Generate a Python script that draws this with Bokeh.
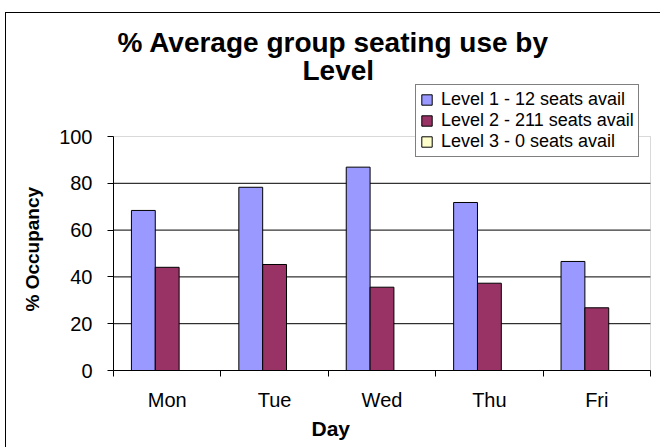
import numpy as np
from bokeh.plotting import figure
from bokeh.models import Range1d, FixedTicker, Legend, LegendItem, Title, BoxAnnotation
from bokeh.embed import file_html
from bokeh.resources import INLINE

# ---- data ----
days = ["Mon", "Tue", "Wed", "Thu", "Fri"]
level1 = [68.4, 78.3, 86.9, 71.8, 46.6]
level2 = [44.1, 45.3, 35.6, 37.3, 26.8]
level3 = [0, 0, 0, 0, 0]
series_names = ["Level 1 - 12 seats avail", "Level 2 - 211 seats avail", "Level 3 - 0 seats avail"]
colors = ["#9999FF", "#993366", "#FFFFCC"]
y_ticks = [0, 20, 40, 60, 80, 100]
grid_ticks = [20, 40, 60, 80]
y_max = 100
title_lines = ["% Average group seating use by", "Level"]
x_title = "Day"
y_title = "% Occupancy"

FONT = "Liberation Sans"
W, H = 654, 434

p = figure(width=W, height=H, output_backend="svg", toolbar_location=None,
           x_range=Range1d(0, len(days) * 547 / 537), y_range=Range1d(0, y_max * 287 / 234),
           min_border_left=107, min_border_right=0, min_border_top=70, min_border_bottom=77)
p.margin = (13, 0, 0, 6)
p.styles = {"outline": "1px solid black"}
p.background_fill_color = "white"
p.border_fill_color = "white"
p.outline_line_color = None

# ---- plot area: grid + grey border ----
p.xgrid.visible = False
p.ygrid.visible = False
p.segment(x0=0, x1=len(days), y0=grid_ticks, y1=grid_ticks, line_color="black",
          line_width=1, level="underlay")
p.add_layout(BoxAnnotation(left=0, right=len(days), bottom=0, top=y_max, fill_alpha=0,
                           line_color="#808080", line_width=1, level="underlay"))

# ---- bars ----
centers = np.arange(len(days)) + 0.5
bw = 0.222
offsets = [-bw, 0.0, bw]
renderers = []
for vals, off, c in zip([level1, level2, level3], offsets, colors):
    r = p.vbar(x=centers + off, top=vals, bottom=0, width=bw,
               fill_color=c, line_color="black", line_width=1)
    renderers.append(r)

# ---- axes ----
yax = p.yaxis[0]
yax.ticker = FixedTicker(ticks=y_ticks)
yax.bounds = (0, y_max)
yax.axis_line_color = "black"
yax.major_tick_out = 6
yax.major_tick_in = 0
yax.minor_tick_out = 0
yax.minor_tick_in = 0
yax.major_tick_line_color = "black"
yax.major_label_text_font = FONT
yax.major_label_text_font_size = "20px"
yax.major_label_text_color = "black"
yax.major_label_standoff = 15

xax = p.xaxis[0]
xax.ticker = FixedTicker(ticks=list(centers), minor_ticks=list(range(len(days) + 1)))
xax.major_label_overrides = {float(c): d for c, d in zip(centers, days)}
xax.bounds = (0, len(days))
xax.axis_line_color = "black"
xax.major_tick_out = 0
xax.major_tick_in = 0
xax.minor_tick_out = 6
xax.minor_tick_in = 0
xax.minor_tick_line_color = "black"
xax.major_label_text_font = FONT
xax.major_label_text_font_size = "20px"
xax.major_label_text_color = "black"
xax.major_label_standoff = 12

# ---- legend ----
legend = Legend(items=[LegendItem(label=n, renderers=[r]) for n, r in zip(series_names, renderers)],
                location=(302, 213), orientation="vertical")
legend.border_line_color = "black"
legend.border_line_width = 1
legend.background_fill_color = "white"
legend.background_fill_alpha = 1
legend.label_text_font = FONT
legend.label_text_font_size = "18px"
legend.label_text_color = "black"
legend.glyph_width = 13
legend.glyph_height = 13
legend.label_height = 18
legend.label_standoff = 8
legend.spacing = 0
legend.padding = 4
legend.margin = 0
p.add_layout(legend)

# ---- titles ----
p.add_layout(Title(text=title_lines[1], align="left", offset=189, standoff=-5,
                   text_font=FONT, text_font_style="bold", text_font_size="28px",
                   text_color="black"), "above")
p.add_layout(Title(text=title_lines[0], align="left", offset=4, standoff=-4,
                   text_font=FONT, text_font_style="bold", text_font_size="28px",
                   text_color="black"), "above")
p.add_layout(Title(text=x_title, align="left", offset=198, standoff=2,
                   text_font=FONT, text_font_style="bold", text_font_size="21px",
                   text_color="black"), "below")
p.add_layout(Title(text=y_title, align="left", offset=59, standoff=24, vertical_align="top",
                   text_font=FONT, text_font_style="bold", text_font_size="19px",
                   text_color="black"), "left")

open("out.html", "w").write(file_html(p, INLINE))
